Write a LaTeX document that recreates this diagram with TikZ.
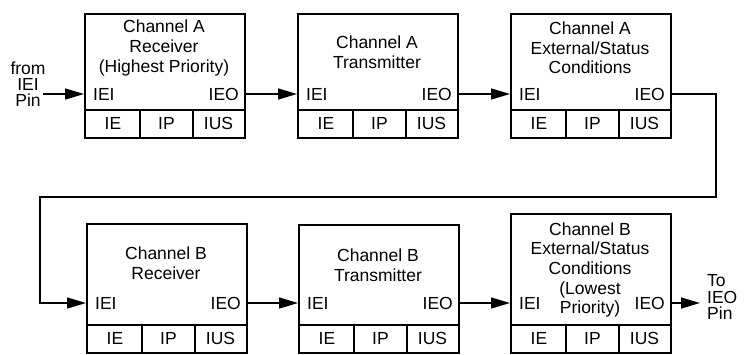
\documentclass[tikz,border=0pt]{standalone}
\usepackage{fontspec}
\setmainfont{Liberation Sans}
\usetikzlibrary{arrows.meta}
\tikzset{
  boxline/.style={draw, line width=2.3pt, inner sep=0pt, anchor=north west, fill=none},
  cellline/.style={line width=1.3pt},
  arr/.style={line width=1.5pt, -{Triangle[length=19pt,width=11pt]}},
  wire/.style={line width=1.5pt},
  lbl/.style={inner sep=0pt, font=\fontsize{17.5}{19.6}\selectfont},
  title/.style={lbl, align=center},
  pin/.style={inner sep=0pt, font=\fontsize{17.5}{16.2}\selectfont}
}
\newcommand\chanbox[7]{%
  % #1 name, #2 left, #3 top, #4 bottom, #5 title, #6 title centre y, #7 IEI/IEO y
  \pgfmathsetmacro\bh{#4-#3}%
  \pgfmathsetmacro\sy{#4-27}%
  \pgfmathsetmacro\cy{#4-13.5}%
  \node[boxline, minimum width=160pt, minimum height=\bh pt] (#1) at (#2,#3) {};
  \draw[cellline] (#2,\sy) -- (#2+160,\sy);
  \draw[cellline] (#2+56,\sy) -- (#2+56,#4);
  \draw[cellline] (#2+109,\sy) -- (#2+109,#4);
  \node[lbl] (#1ie) at (#2+29,\cy) {IE};
  \node[lbl] (#1ip) at (#2+82.5,\cy) {IP};
  \node[lbl] (#1ius) at (#2+134.5,\cy) {IUS};
  \node[title] (#1t) at (#2+80,#6) {#5};
  \node[lbl, anchor=west] (#1i) at (#2+9,#7) {IEI};
  \node[lbl, anchor=east] (#1o) at (#2+155,#7) {IEO};
}
\begin{document}
\begin{tikzpicture}[x=1pt,y=-1pt]
\useasboundingbox (0,0) rectangle (746,354);
\chanbox{b1}{84}{13}{137}{Channel A\\Receiver\\(Highest Priority)}{48}{94}
\chanbox{b2}{297}{13}{137}{Channel A\\Transmitter}{52}{94}
\chanbox{b3}{510}{13}{137}{Channel A\\External/Status\\Conditions}{48}{94}
\chanbox{b4}{86}{223}{352}{Channel B\\Receiver}{263}{303}
\chanbox{b5}{298}{224}{352}{Channel B\\Transmitter}{265.5}{303}
\chanbox{b6}{510}{213}{352}{Channel B\\External/Status\\Conditions\\(Lowest\\Priority)}{270}{303}
% pin labels
\node[pin, align=center] (fromlbl) at (28,84) {from\\IEI\\Pin};
\node[pin, align=left, anchor=west] (tolbl) at (707,297) {To\\IEO\\Pin};
\coordinate (in) at (43,94);
\coordinate (out) at (700,303);
\coordinate (c1) at (716,197);
\coordinate (c2) at (40,197);
% connectors
\draw[arr] (in) -- (b1i -| b1.west);
\draw[arr] (b1o -| b1.east) -- (b2i -| b2.west);
\draw[arr] (b2o -| b2.east) -- (b3i -| b3.west);
\draw[arr] (b3o -| b3.east) -| (c1) -- (c2) -- (c2 |- b4i) -- (b4i -| b4.west);
\draw[arr] (b4o -| b4.east) -- (b5i -| b5.west);
\draw[arr] (b5o -| b5.east) -- (b6i -| b6.west);
\draw[arr] (b6o -| b6.east) -- (out);
\end{tikzpicture}
\end{document}
